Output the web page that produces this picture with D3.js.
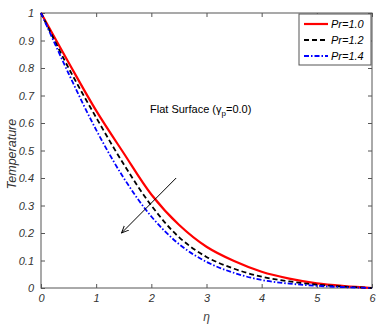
<!DOCTYPE html>
<html>
<head>
<meta charset="utf-8">
<script src="https://cdn.jsdelivr.net/npm/d3@7"></script>
<style>
  body { margin: 0; background: #fff; }
  svg text { font-family: "Liberation Sans", Arial, sans-serif; }
</style>
</head>
<body>
<div id="graph"></div>
<script>
const w = 380;
const h = 331;
const margin = {top: 13, right: 8, bottom: 43, left: 41};

// data
const eta = [0, 0.5, 1, 1.5, 2, 2.5, 3, 3.5, 4, 4.5, 5, 5.5, 6];
const pr10 = [1, 0.82, 0.645, 0.49, 0.34, 0.23, 0.15, 0.098, 0.059, 0.034, 0.017, 0.007, 0];
const pr12 = [1, 0.80, 0.62, 0.45, 0.30, 0.185, 0.113, 0.07, 0.041, 0.024, 0.012, 0.005, 0];
const pr14 = [1, 0.78, 0.575, 0.40, 0.26, 0.16, 0.095, 0.055, 0.029, 0.016, 0.008, 0.003, 0];
const seriesNames = ['Pr=1.0', 'Pr=1.2', 'Pr=1.4'];
const xTicks = [0, 1, 2, 3, 4, 5, 6];
const yTicks = [0, 0.1, 0.2, 0.3, 0.4, 0.5, 0.6, 0.7, 0.8, 0.9, 1];
const arrowFrom = [2.45, 0.40];
const arrowTo = [1.46, 0.20];

const series = [
  {name: seriesNames[0], values: pr10, color: '#ff0000', dash: null, width: 2.2},
  {name: seriesNames[1], values: pr12, color: '#000000', dash: '5,3', width: 1.8},
  {name: seriesNames[2], values: pr14, color: '#0000ff', dash: '5,2,1.5,2', width: 1.8}
];

const svg = d3.select('#graph')
              .append('svg')
              .attr('width', w)
              .attr('height', h);

const xScale = d3.scaleLinear()
                 .domain([0, 6])
                 .range([margin.left, w - margin.right]);
const yScale = d3.scaleLinear()
                 .domain([0, 1])
                 .range([h - margin.bottom, margin.top]);

const axisColor = '#555';
const tickLen = 4;

// box
svg.append('rect')
   .attr('x', xScale(0))
   .attr('y', yScale(1))
   .attr('width', xScale(6) - xScale(0))
   .attr('height', yScale(0) - yScale(1))
   .attr('fill', 'none')
   .attr('stroke', axisColor)
   .attr('stroke-width', 1);

// inward ticks on all sides
const styleAxis = g => {
  g.select('.domain').remove();
  g.selectAll('line').attr('stroke', axisColor);
  g.selectAll('text').attr('fill', '#333').style('font-style', 'italic').style('font-size', '11px');
};

svg.append('g')
   .attr('transform', 'translate(0,' + yScale(0) + ')')
   .call(d3.axisBottom(xScale).tickValues(xTicks).tickSizeInner(-tickLen).tickPadding(6).tickFormat(d3.format('d')))
   .call(styleAxis);
svg.append('g')
   .attr('transform', 'translate(0,' + yScale(1) + ')')
   .call(d3.axisTop(xScale).tickValues(xTicks).tickSizeInner(-tickLen).tickFormat(''))
   .call(styleAxis);
svg.append('g')
   .attr('transform', 'translate(' + xScale(0) + ',0)')
   .call(d3.axisLeft(yScale).tickValues(yTicks).tickSizeInner(-tickLen).tickPadding(7).tickFormat(d => d3.format('')(d)))
   .call(styleAxis);
svg.append('g')
   .attr('transform', 'translate(' + xScale(6) + ',0)')
   .call(d3.axisRight(yScale).tickValues(yTicks).tickSizeInner(-tickLen).tickFormat(''))
   .call(styleAxis);

// axis labels
svg.append('text')
   .attr('x', (xScale(0) + xScale(6)) / 2)
   .attr('y', h - 10)
   .attr('text-anchor', 'middle')
   .attr('fill', '#444')
   .style('font-size', '12px')
   .style('font-style', 'italic')
   .text('η');

svg.append('text')
   .attr('transform', 'rotate(-90)')
   .attr('x', -154)
   .attr('y', 16)
   .attr('text-anchor', 'middle')
   .attr('fill', '#333')
   .style('font-size', '12.5px')
   .style('font-style', 'italic')
   .text('Temperature');

// curves
const line = d3.line()
               .x((d, i) => xScale(eta[i]))
               .y(d => yScale(d))
               .curve(d3.curveCatmullRom.alpha(0.5));

svg.selectAll('.curve')
   .data(series)
   .enter()
   .append('path')
   .attr('class', 'curve')
   .attr('d', d => line(d.values))
   .attr('fill', 'none')
   .attr('stroke', d => d.color)
   .attr('stroke-width', d => d.width)
   .attr('stroke-dasharray', d => d.dash);

// arrow
svg.append('defs').append('marker')
   .attr('id', 'head')
   .attr('viewBox', '0 0 10 10')
   .attr('refX', 9)
   .attr('refY', 5)
   .attr('markerWidth', 8)
   .attr('markerHeight', 8)
   .attr('orient', 'auto')
   .append('path')
   .attr('d', 'M0,1 L9,5 L0,9')
   .attr('fill', 'none')
   .attr('stroke', '#000')
   .attr('stroke-width', 1.2);

svg.append('line')
   .attr('x1', xScale(arrowFrom[0]))
   .attr('y1', yScale(arrowFrom[1]))
   .attr('x2', xScale(arrowTo[0]))
   .attr('y2', yScale(arrowTo[1]))
   .attr('stroke', '#000')
   .attr('stroke-width', 1)
   .attr('marker-end', 'url(#head)');

// annotation
const note = svg.append('text')
   .attr('x', 150)
   .attr('y', 113)
   .attr('fill', '#000')
   .style('font-size', '11px');
note.append('tspan').text('Flat Surface (γ');
note.append('tspan').attr('dy', 3).style('font-size', '8px').text('p');
note.append('tspan').attr('dy', -3).text('=0.0)');

// legend
const legendBox = svg.append('g')
   .attr('transform', 'translate(299,14)');
legendBox.append('rect')
   .attr('width', 72)
   .attr('height', 51)
   .attr('fill', '#fff')
   .attr('stroke', axisColor)
   .attr('stroke-width', 1);

const legend = legendBox.selectAll('.legend')
   .data(series)
   .enter()
   .append('g')
   .attr('class', 'legend')
   .attr('transform', (d, i) => 'translate(0,' + (10 + i * 16) + ')');

legend.append('line')
   .attr('x1', 5)
   .attr('x2', 29)
   .attr('stroke', d => d.color)
   .attr('stroke-width', d => d.width)
   .attr('stroke-dasharray', d => d.dash);

legend.append('text')
   .attr('x', 32)
   .attr('dy', '0.35em')
   .attr('fill', '#000')
   .style('font-size', '11px')
   .style('font-style', 'italic')
   .text(d => d.name);
</script>
</body>
</html>
